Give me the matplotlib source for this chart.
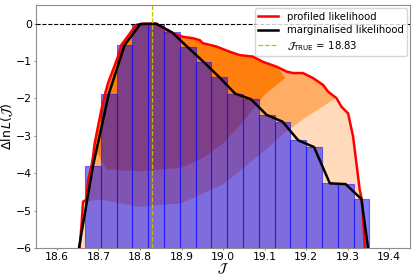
import numpy as np
import matplotlib
matplotlib.use("Agg")
import matplotlib.pyplot as plt

# histogram of the marginalised likelihood (one value per bin)
BIN_LO, BIN_HI, N_BINS = 18.668, 19.352, 18
bar_vals = [-3.80, -1.88, -0.57, -0.01, 0.0, -0.23, -0.63, -1.02, -1.43,
            -1.87, -2.02, -2.44, -2.62, -3.12, -3.30, -4.27, -4.29, -4.69]
# the bins just outside the plotted range (below -6)
edge_vals = [-6.27, -7.8]

# profiled likelihood envelope
red_x = [18.654, 18.655, 18.659, 18.663, 18.671, 18.675, 18.683, 18.687, 18.691,
         18.699, 18.707, 18.715, 18.723, 18.735, 18.747, 18.755, 18.767, 18.779,
         18.791, 18.807, 18.840, 18.855, 18.880, 18.904, 18.928, 18.944, 18.951,
         18.984, 19.016, 19.040, 19.072, 19.096, 19.129, 19.153, 19.168, 19.192,
         19.216, 19.241, 19.253, 19.273, 19.285, 19.301, 19.313, 19.321, 19.329,
         19.334, 19.337, 19.341, 19.342]
red_y = [-6.3, -5.96, -5.43, -4.76, -4.71, -4.18, -3.82, -3.56, -3.20,
         -2.75, -2.31, -1.91, -1.59, -1.24, -0.88, -0.57, -0.39, -0.21,
         -0.03, 0.0, 0.0, -0.12, -0.26, -0.35, -0.39, -0.44, -0.52,
         -0.61, -0.75, -0.84, -0.88, -1.02, -1.15, -1.28, -1.32, -1.32,
         -1.45, -1.64, -1.82, -1.99, -2.22, -2.40, -3.02, -3.73, -4.45,
         -4.71, -5.16, -5.96, -6.3]

# density of the sample cloud: lower edges of the dense and medium parts
dense_lo_x = [19.15, 19.10, 19.05, 19.00, 18.95, 18.90, 18.80, 18.72, 18.69]
dense_lo_y = [-1.45, -1.9, -2.6, -3.2, -3.6, -3.85, -3.95, -3.9, -3.3]
mid_lo_x = [19.27, 19.20, 19.15, 19.10, 19.00, 18.90, 18.80, 18.70, 18.66]
mid_lo_y = [-2.0, -2.5, -2.9, -3.4, -4.3, -4.8, -4.9, -4.7, -4.8]

J_TRUE = 18.83

edges = np.linspace(BIN_LO, BIN_HI, N_BINS + 1)
width = edges[1] - edges[0]
centers = 0.5 * (edges[:-1] + edges[1:])

fig = plt.figure(figsize=(4.15, 2.79), dpi=100)
ax = fig.add_axes([0.087, 0.111, 0.901, 0.871])

rx = np.array(red_x)
ry = np.array(red_y)


def cloud_patch(lo_x, lo_y, alpha):
    # polygon: envelope between the ends of the lower edge, then back along it
    m = (rx >= min(lo_x)) & (rx <= max(lo_x))
    xs = np.concatenate([rx[m], lo_x])
    ys = np.concatenate([ry[m], lo_y])
    ax.fill(xs, ys, color="#ff7f0e", alpha=alpha, lw=0, zorder=1)


ax.fill(rx, ry, color="#ff7f0e", alpha=0.28, lw=0, zorder=1)
cloud_patch(mid_lo_x, mid_lo_y, 0.5)
cloud_patch(dense_lo_x, dense_lo_y, 1.0)

bottom = -10
ax.bar(centers, np.array(bar_vals) - bottom, bottom=bottom, width=width,
       color="blue", alpha=0.5, edgecolor="blue", linewidth=0.8, zorder=2)

ax.plot(red_x, red_y, color="red", lw=1.8, zorder=3, label="profiled likelihood")

bx = np.concatenate([[centers[0] - width], centers, [centers[-1] + width]])
by = np.concatenate([[edge_vals[0]], bar_vals, [edge_vals[1]]])
ax.plot(bx, by, color="black", lw=1.8, zorder=4, label="marginalised likelihood")

ax.axvline(J_TRUE, color="y", ls="--", lw=0.9, zorder=5,
           label=r"$\mathcal{J}_{\rm TRUE}$ = %.2f" % J_TRUE)
ax.axhline(0, color="black", ls="--", lw=0.8, zorder=5)

ax.set_xlim(18.55, 19.45)
ax.set_ylim(-6, 0.5)
ax.set_xticks([18.6, 18.7, 18.8, 18.9, 19.0, 19.1, 19.2, 19.3, 19.4])
ax.set_yticks([0, -1, -2, -3, -4, -5, -6])
ax.tick_params(labelsize=7.8, length=1.5, pad=1.2, color="0.55")
for s in ax.spines.values():
    s.set_color("0.55")

ax.set_xlabel(r"$\mathcal{J}$", fontsize=9, labelpad=0)
ax.set_ylabel(r"$\Delta \ln L(\mathcal{J})$", fontsize=9, labelpad=1)

ax.legend(loc="upper right", fontsize=7.3, handlelength=2.0,
          labelspacing=0.35, borderpad=0.35, borderaxespad=0.3)

fig.savefig("out.png", dpi=100)
